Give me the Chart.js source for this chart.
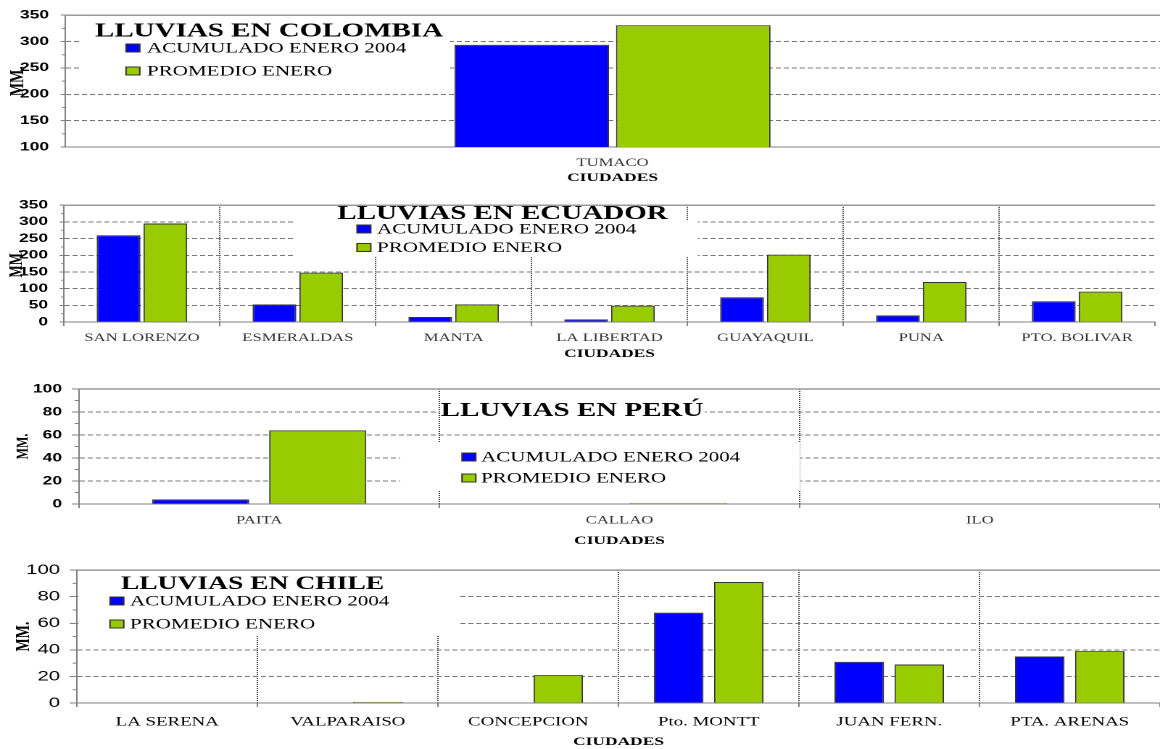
<!DOCTYPE html>
<html>
<head>
<meta charset="utf-8">
<title>Lluvias enero 2004</title>
<script src="https://cdn.jsdelivr.net/npm/chart.js@4/dist/chart.umd.min.js"></script>
<style>
  html, body { margin: 0; padding: 0; background: #fff; }
  body { width: 1160px; height: 749px; position: relative; overflow: hidden; }
  /* each panel is laid out 800px wide and stretched sideways to 1160px */
  .panel { position: absolute; left: 0; width: 800px; transform-origin: 0 0; transform: scaleX(1.45); }
</style>
</head>
<body>
<div class="panel" style="top:0px;height:190px"><canvas id="colombia"></canvas></div>
<div class="panel" style="top:190px;height:172px"><canvas id="ecuador"></canvas></div>
<div class="panel" style="top:362px;height:193px"><canvas id="peru"></canvas></div>
<div class="panel" style="top:555px;height:194px"><canvas id="chile"></canvas></div>
<script>
const S = 1.45; // horizontal stretch of the panels

const seriesNames = ["ACUMULADO ENERO 2004", "PROMEDIO ENERO"];
const seriesColors = ["#0000FF", "#99CC00"];

const colombiaCities = ["TUMACO"];
const colombiaAcum = [294];
const colombiaProm = [331];
const colombiaYTicks = [100, 150, 200, 250, 300, 350];

const ecuadorCities = ["SAN LORENZO", "ESMERALDAS", "MANTA", "LA LIBERTAD", "GUAYAQUIL", "PUNA", "PTO. BOLIVAR"];
const ecuadorAcum = [260, 53, 15, 8, 74, 20, 62];
const ecuadorProm = [295, 148, 53, 49, 202, 120, 91];
const ecuadorYTicks = [0, 50, 100, 150, 200, 250, 300, 350];

const peruCities = ["PAITA", "CALLAO", "ILO"];
const peruAcum = [4, 0, 0];
const peruProm = [64, 0.8, 0];
const peruYTicks = [0, 20, 40, 60, 80, 100];

const chileCities = ["LA SERENA", "VALPARAISO", "CONCEPCION", "Pto. MONTT", "JUAN FERN.", "PTA. ARENAS"];
const chileAcum = [0, 0, 0, 68, 31, 35];
const chileProm = [0, 0.8, 21, 91, 29, 39];
const chileYTicks = [0, 20, 40, 60, 80, 100];

const SERIF = '"Liberation Serif", "Times New Roman", serif';
const SANS = '"Liberation Sans", Arial, sans-serif';

// frame line, minor ticks, title and legend drawn inside the plot
const overlayPlugin = {
  id: "overlay",
  afterDraw(chart, args, o) {
    const ctx = chart.ctx;
    const { left, right, top } = chart.chartArea;
    const yScale = chart.scales.y;
    const X = (x) => x / S;
    const Y = (y) => y - o.panelTop;
    ctx.save();

    ctx.strokeStyle = "#808080";
    ctx.lineWidth = 1;
    const vals = o.ticks;
    for (let i = 0; i < vals.length - 1; i++) {
      const py = yScale.getPixelForValue((vals[i] + vals[i + 1]) / 2);
      ctx.beginPath();
      ctx.moveTo(left - o.minor, py);
      ctx.lineTo(left, py);
      ctx.stroke();
    }

    ctx.fillStyle = "#fff";
    o.boxes.forEach((b) => ctx.fillRect(X(b[0]), Y(b[1]), X(b[2]) - X(b[0]), b[3] - b[1]));

    ctx.strokeStyle = "#999";
    ctx.lineWidth = 1.5;
    ctx.beginPath();
    ctx.moveTo(left, top);
    ctx.lineTo(right, top);
    ctx.stroke();

    ctx.fillStyle = "#000";
    ctx.textAlign = "center";
    ctx.textBaseline = "middle";
    ctx.font = "bold " + o.titleSize + "px " + SERIF;
    ctx.fillText(o.title, X(o.titleX), Y(o.titleY));

    ctx.font = "14.5px " + SERIF;
    ctx.textAlign = "left";
    ctx.lineWidth = 1;
    chart.data.datasets.forEach((ds, i) => {
      const ry = Y(o.rows[i]);
      ctx.fillStyle = ds.backgroundColor;
      ctx.fillRect(X(o.keyX), ry - 4, 9.5, 8);
      ctx.strokeStyle = "#333";
      ctx.strokeRect(X(o.keyX), ry - 4, 9.5, 8);
      ctx.fillStyle = "#000";
      ctx.fillText(ds.label, X(o.textX), ry + 0.5);
    });
    ctx.restore();
  },
};

function buildChart(id, cities, acum, prom, yTicks, look) {
  const yMin = yTicks[0];
  const yMax = yTicks[yTicks.length - 1];
  return new Chart(document.getElementById(id), {
    type: "bar",
    data: {
      labels: cities,
      datasets: [
        { label: seriesNames[0], data: acum, backgroundColor: seriesColors[0] },
        { label: seriesNames[1], data: prom, backgroundColor: seriesColors[1] },
      ],
    },
    options: {
      responsive: true,
      maintainAspectRatio: false,
      animation: false,
      devicePixelRatio: 2,
      layout: { padding: { top: look.plotTop, right: look.padRight, left: 0, bottom: 0 } },
      datasets: {
        bar: {
          borderColor: "#333",
          borderWidth: 1,
          categoryPercentage: look.cat,
          barPercentage: look.bar,
        },
      },
      plugins: {
        legend: { display: false },
        tooltip: { enabled: false },
        overlay: Object.assign({ ticks: yTicks }, look.overlay),
      },
      scales: {
        x: {
          grid: {
            display: look.vgrid,
            drawTicks: look.vgrid,
            tickLength: 4,
            offset: true,
            color: (c) => (c.tick ? "#333" : "rgba(0,0,0,0)"),
            tickColor: "#808080",
          },
          border: { color: "#808080", width: 1, dash: [1, 1] },
          ticks: {
            autoSkip: false,
            maxRotation: 0,
            padding: look.xPad,
            color: look.xColor,
            font: { family: SERIF, size: look.xSize },
          },
          title: {
            display: true,
            text: "CIUDADES",
            color: "#000",
            font: { family: SERIF, weight: "bold", size: 12 },
            padding: { top: 0, bottom: look.titlePad },
          },
          afterFit: (s) => { s.height = look.xHeight; },
        },
        y: {
          min: yMin,
          max: yMax,
          afterBuildTicks: (s) => { s.ticks = yTicks.map((v) => ({ value: v })); },
          grid: {
            tickLength: look.tick,
            tickColor: "#808080",
            color: (c) => (c.tick && (c.tick.value === yMin || c.tick.value === yMax) ? "rgba(0,0,0,0)" : "#777"),
          },
          border: { color: "#808080", width: 1, dash: [3.5, 2] },
          ticks: {
            autoSkip: false,
            padding: look.yPad,
            color: "#000",
            font: look.yFont,
          },
          title: {
            display: true,
            text: "MM.",
            color: "#000",
            font: { family: SERIF, weight: "bold", size: look.mmSize },
            padding: { top: look.mmPad, bottom: 0 },
          },
          afterFit: (s) => { s.width = look.left / S; },
        },
      },
    },
    plugins: [overlayPlugin],
  });
}

buildChart("colombia", colombiaCities, colombiaAcum, colombiaProm, colombiaYTicks, {
  plotTop: 12, padRight: 0, left: 65, xHeight: 43, cat: 0.295, bar: 0.957,
  vgrid: false, xPad: 9, xSize: 11.5, xColor: "#333", titlePad: 4.8,
  tick: 3, yPad: 8, yFont: { family: SANS, weight: "bold", size: 12 }, mmSize: 14, mmPad: 4,
  overlay: {
    panelTop: 0, minor: 2, title: "LLUVIAS EN COLOMBIA", titleSize: 20, titleX: 269, titleY: 31.5,
    boxes: [[82, 18, 450, 86]], keyX: 126, textX: 147, rows: [48, 71],
  },
});

buildChart("ecuador", ecuadorCities, ecuadorAcum, ecuadorProm, ecuadorYTicks, {
  plotTop: 9, padRight: 3.4, left: 64, xHeight: 40, cat: 0.6, bar: 0.936,
  vgrid: true, xPad: 5.1, xSize: 11.5, xColor: "#333", titlePad: 0.8,
  tick: 3, yPad: 8, yFont: { family: SANS, weight: "bold", size: 12 }, mmSize: 13, mmPad: 3.9,
  overlay: {
    panelTop: 190, minor: 2, title: "LLUVIAS EN ECUADOR", titleSize: 20, titleX: 502.5, titleY: 214,
    boxes: [[336, 200, 674, 223], [295, 221, 698, 257]], keyX: 357, textX: 377, rows: [229, 247.5],
  },
});

buildChart("peru", peruCities, peruAcum, peruProm, peruYTicks, {
  plotTop: 27, padRight: 0, left: 79, xHeight: 51, cat: 0.65, bar: 0.83,
  vgrid: true, xPad: 5.6, xSize: 11.5, xColor: "#333", titlePad: 6.8,
  tick: 5, yPad: 6.7, yFont: { family: SANS, weight: "bold", size: 12 }, mmSize: 12, mmPad: 8.7,
  overlay: {
    panelTop: 362, minor: 3, title: "LLUVIAS EN PERÚ", titleSize: 20, titleX: 572, titleY: 411,
    boxes: [[440, 396, 705, 426], [400, 443, 800, 491]], keyX: 462, textX: 481, rows: [457, 478],
  },
});

buildChart("chile", chileCities, chileAcum, chileProm, chileYTicks, {
  plotTop: 14, padRight: 0, left: 77, xHeight: 46, cat: 0.665, bar: 0.825,
  vgrid: true, xPad: 7.2, xSize: 13, xColor: "#000", titlePad: 0,
  tick: 5, yPad: 6.7, yFont: { family: SANS, size: 14 }, mmSize: 14, mmPad: 8.2,
  overlay: {
    panelTop: 555, minor: 3, title: "LLUVIAS EN CHILE", titleSize: 19, titleX: 252.5, titleY: 584,
    boxes: [[78.5, 570, 440, 590], [78.5, 589, 459, 635]], keyX: 110, textX: 130, rows: [601, 624],
  },
});
</script>
</body>
</html>
